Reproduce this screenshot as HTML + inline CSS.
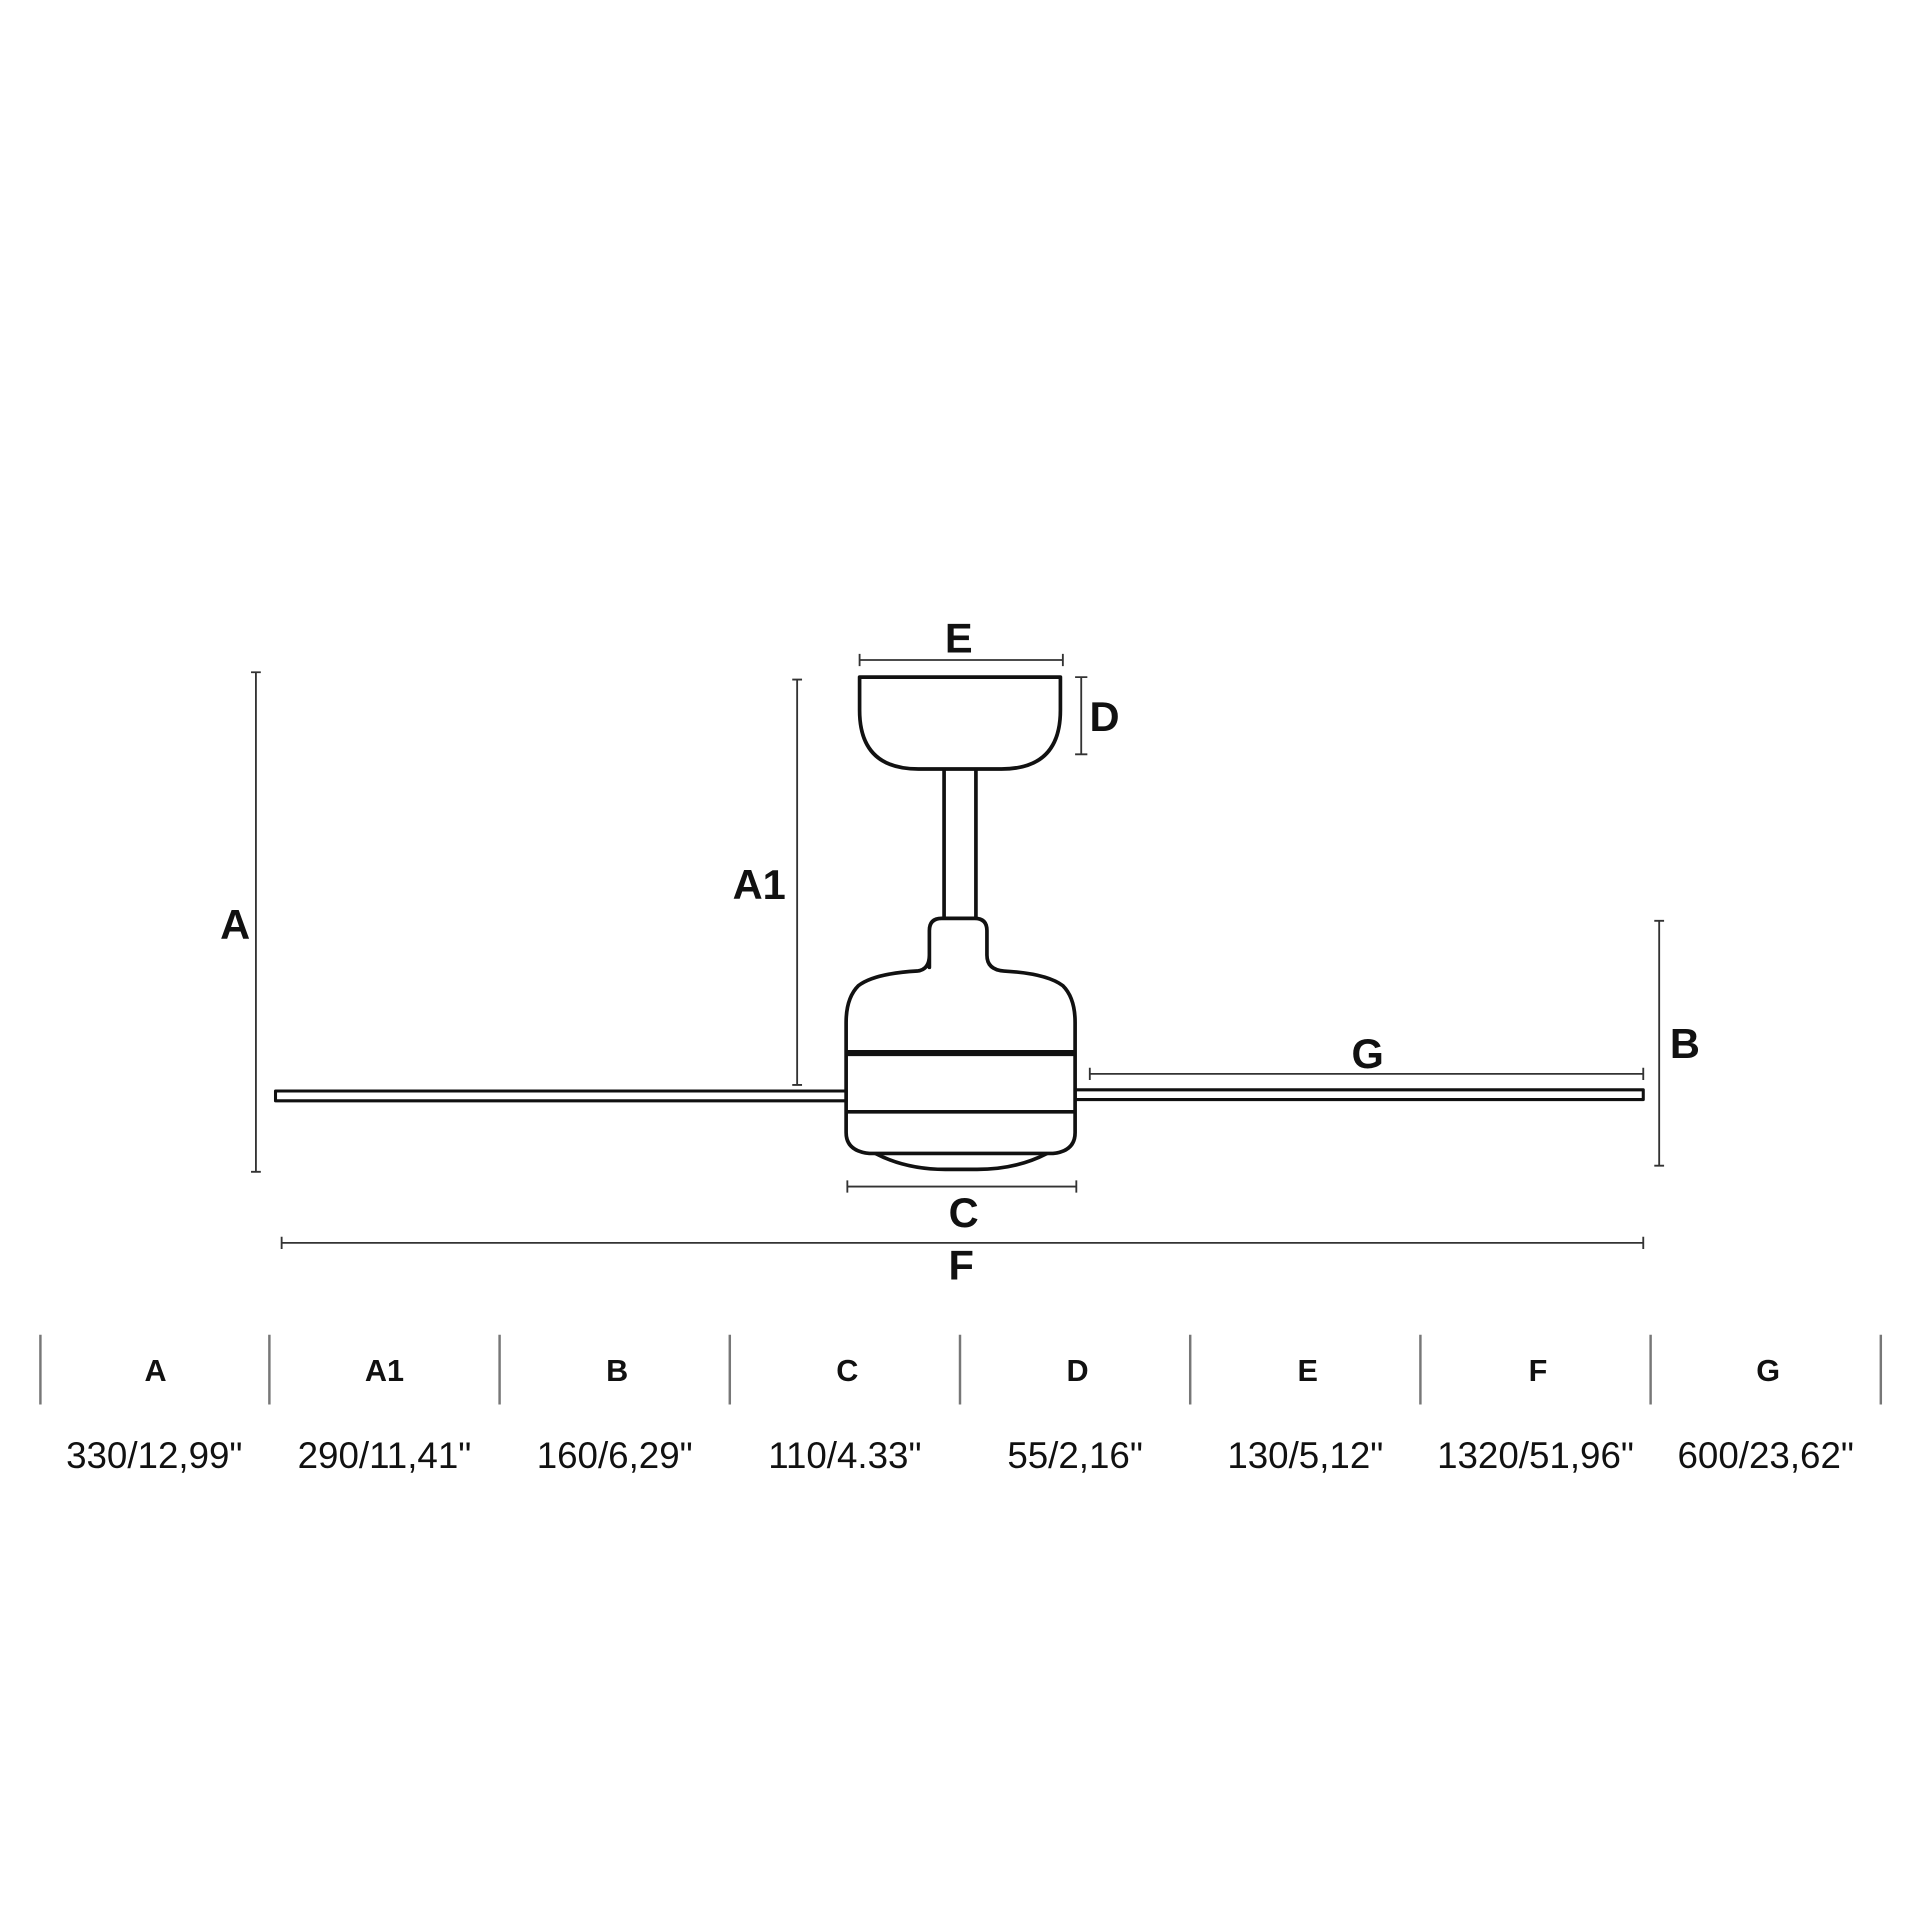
<!DOCTYPE html>
<html><head><meta charset="utf-8"><style>
html,body{margin:0;padding:0;background:#fff;width:1920px;height:1920px;overflow:hidden}
svg{display:block}
text{font-family:"Liberation Sans",sans-serif;fill:#111}
.lbl{font-size:34px;font-weight:bold;text-anchor:middle}
.hd{font-size:25px;font-weight:bold;text-anchor:middle}
.val{font-size:30px;text-anchor:middle}
</style></head><body>
<svg width="1920" height="1920" viewBox="0 0 1568 1568" xmlns="http://www.w3.org/2000/svg">
<g fill="none" stroke="#111" stroke-width="3" stroke-linejoin="round">
<!-- canopy -->
<path d="M702,553 L866,553 L866,580 Q866,628 818,628 L750,628 Q702,628 702,580 Z"/>
<!-- downrod -->
<path d="M771,628 L771,750 M797,628 L797,750"/>
<!-- body -->
<path d="M759,790 L759,760 Q759,750 769,750 L796,750 Q806,750 806,760 L806,780 Q806,792 820,793 Q855,795 868,805 Q878,815 878,835 L878,925 Q878,940 860,942 L710,942 Q691,940 691,925 L691,835 Q691,815 701,805 Q714,795 749,793 Q759,792 759,780 Z"/>
<path d="M715,942 Q740,955 772,955 L798,955 Q830,955 855,942"/>
<path d="M691,860 L878,860" stroke-width="5"/>
<path d="M691,908 L878,908"/>
<!-- blades -->
<rect x="225" y="891" width="466" height="8" stroke-width="2.5"/>
<rect x="878" y="890" width="464" height="8" stroke-width="2.5"/>
</g>
<g stroke="#333" stroke-width="1.5" fill="none">
<!-- E -->
<path d="M702,539 L868,539 M702,534 L702,544 M868,534 L868,544"/>
<!-- D -->
<path d="M883,553 L883,616 M878,553 L888,553 M878,616 L888,616"/>
<!-- A -->
<path d="M209,549 L209,957 M205,549 L213,549 M205,957 L213,957"/>
<!-- A1 -->
<path d="M651,555 L651,886 M647,555 L655,555 M647,886 L655,886"/>
<!-- G -->
<path d="M890,877 L1342,877 M890,872 L890,882 M1342,872 L1342,882"/>
<!-- B -->
<path d="M1355,752 L1355,952 M1351,752 L1359,752 M1351,952 L1359,952"/>
<!-- C -->
<path d="M692,969 L879,969 M692,964 L692,974 M879,964 L879,974"/>
<!-- F -->
<path d="M230,1015 L1342,1015 M230,1010 L230,1020 M1342,1010 L1342,1020"/>
</g>
<text class="lbl" x="783" y="533">E</text>
<text class="lbl" x="902" y="597">D</text>
<text class="lbl" x="192" y="767">A</text>
<text class="lbl" x="620" y="734">A1</text>
<text class="lbl" x="1117" y="872">G</text>
<text class="lbl" x="1376" y="864">B</text>
<text class="lbl" x="787" y="1002">C</text>
<text class="lbl" x="785" y="1045">F</text>
<g stroke="#777" stroke-width="2">
<path d="M33,1090V1147M220,1090V1147M408,1090V1147M596,1090V1147M784,1090V1147M972,1090V1147M1160,1090V1147M1348,1090V1147M1536,1090V1147"/>
</g>
<g>
<text class="hd" x="127" y="1128">A</text>
<text class="hd" x="314" y="1128">A1</text>
<text class="hd" x="504" y="1128">B</text>
<text class="hd" x="692" y="1128">C</text>
<text class="hd" x="880" y="1128">D</text>
<text class="hd" x="1068" y="1128">E</text>
<text class="hd" x="1256" y="1128">F</text>
<text class="hd" x="1444" y="1128">G</text>
<text class="val" x="126" y="1199">330/12,99"</text>
<text class="val" x="314" y="1199">290/11,41"</text>
<text class="val" x="502" y="1199">160/6,29"</text>
<text class="val" x="690" y="1199">110/4.33"</text>
<text class="val" x="878" y="1199">55/2,16"</text>
<text class="val" x="1066" y="1199">130/5,12"</text>
<text class="val" x="1254" y="1199">1320/51,96"</text>
<text class="val" x="1442" y="1199">600/23,62"</text>
</g>
</svg>
</body></html>
